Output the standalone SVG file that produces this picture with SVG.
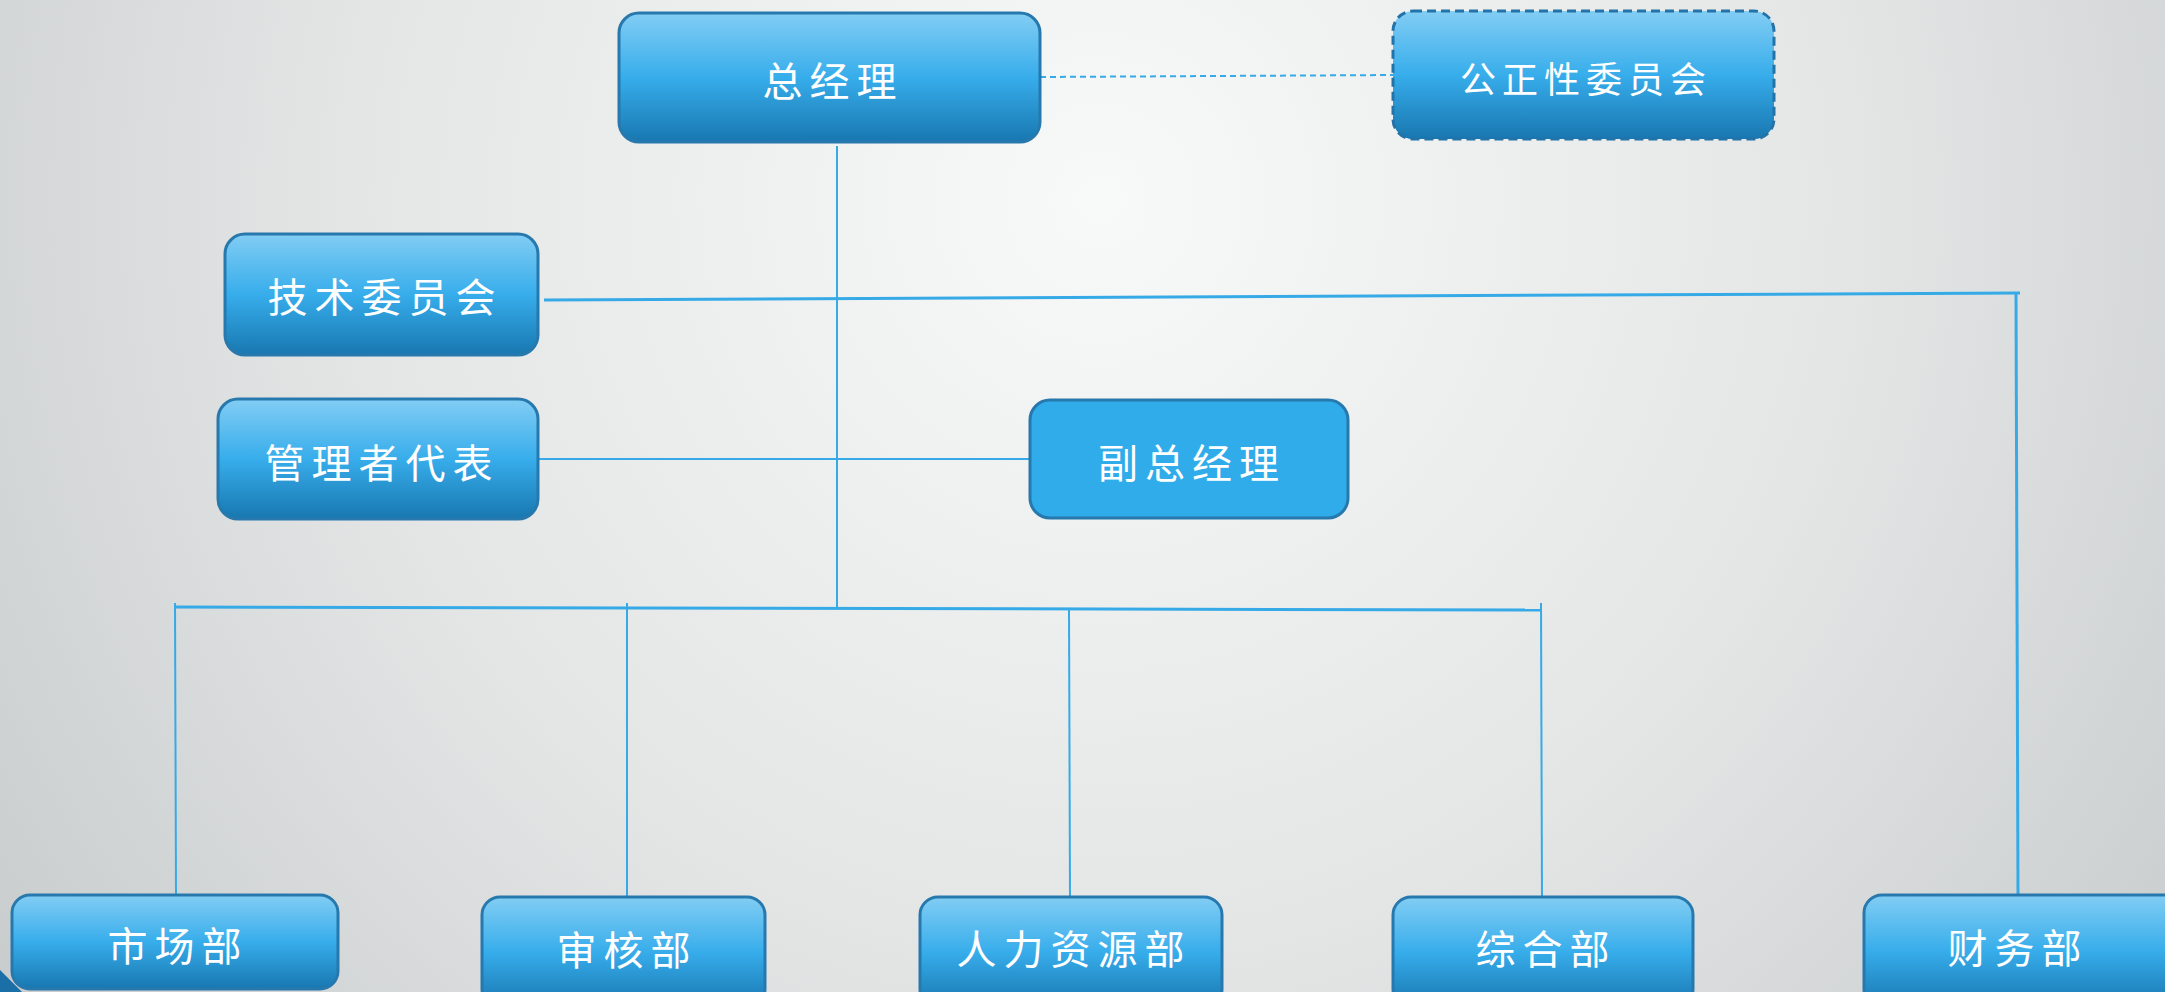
<svg xmlns="http://www.w3.org/2000/svg" width="2165" height="992" viewBox="0 0 2165 992">
<defs>
<radialGradient id="bg" cx="1100" cy="200" r="1500" gradientUnits="userSpaceOnUse">
<stop offset="0" stop-color="#f8f9f9"/>
<stop offset="0.5" stop-color="#e4e6e6"/>
<stop offset="1" stop-color="#c2c6c7"/>
</radialGradient>
<linearGradient id="nodeFill" x1="0" y1="0" x2="0" y2="1">
<stop offset="0" stop-color="#82cdf4"/>
<stop offset="0.5" stop-color="#37adeb"/>
<stop offset="1" stop-color="#1877b0"/>
</linearGradient>
<style>
.node{fill:url(#nodeFill);stroke:#2779ad;stroke-width:3}
.solid{fill:#31aceb;stroke:#2779ad;stroke-width:3}
.dashed{fill:url(#nodeFill);stroke:#2372a8;stroke-width:3;stroke-dasharray:9 5}
.lbl{fill:#ffffff;font-family:"Noto Sans CJK SC","Noto Sans CJK JP",sans-serif;font-size:40px;letter-spacing:7px;text-anchor:middle;dominant-baseline:central}
.conn{stroke:#36aae7;stroke-width:2;fill:none}
.thick{stroke:#36aae7;stroke-width:3;fill:none}
</style>
</defs>
<rect width="2165" height="992" fill="url(#bg)"/>
<polygon points="0,970 22,992 0,992" fill="#1a6fa6"/>
<g id="connectors">
<line class="conn" x1="1040" y1="77" x2="1393" y2="75" stroke-dasharray="6 4" stroke-width="2.5"/>
<line class="conn" x1="837" y1="146" x2="837" y2="608"/>
<line class="thick" x1="544" y1="300" x2="2020" y2="293"/>
<line class="thick" x1="2016" y1="293" x2="2018" y2="895"/>
<line class="conn" x1="538" y1="459" x2="1030" y2="459"/>
<line class="thick" x1="175" y1="607" x2="1541" y2="610"/>
<line class="conn" x1="175" y1="603" x2="176" y2="895"/>
<line class="conn" x1="627" y1="603" x2="627" y2="898"/>
<line class="conn" x1="1069" y1="610" x2="1070" y2="898"/>
<line class="conn" x1="1541" y1="603" x2="1542" y2="898"/>
</g>
<g id="n-gm"><rect class="node" x="619" y="13" width="421" height="129" rx="20"/><text class="lbl" x="833" y="79">总经理</text></g>
<g id="n-fair"><rect class="dashed" x="1393" y="11" width="381" height="128" rx="20"/><text class="lbl" x="1586" y="77" style="font-size:36px;letter-spacing:6px">公正性委员会</text></g>
<g id="n-tech"><rect class="node" x="225" y="234" width="313" height="121" rx="20"/><text class="lbl" x="385" y="295">技术委员会</text></g>
<g id="n-rep"><rect class="node" x="218" y="399" width="320" height="120" rx="20"/><text class="lbl" x="382" y="461">管理者代表</text></g>
<g id="n-vgm"><rect class="solid" x="1030" y="400" width="318" height="118" rx="20"/><text class="lbl" x="1192" y="461">副总经理</text></g>
<g id="n-market"><rect class="node" x="12" y="895" width="326" height="94" rx="18"/><text class="lbl" x="178" y="944">市场部</text></g>
<g id="n-audit"><rect class="node" x="482" y="897" width="283" height="110" rx="18"/><text class="lbl" x="627" y="948">审核部</text></g>
<g id="n-hr"><rect class="node" x="920" y="897" width="302" height="110" rx="18"/><text class="lbl" x="1074" y="947">人力资源部</text></g>
<g id="n-general"><rect class="node" x="1393" y="897" width="300" height="110" rx="18"/><text class="lbl" x="1546" y="947">综合部</text></g>
<g id="n-finance"><rect class="node" x="1864" y="895" width="320" height="112" rx="18"/><text class="lbl" x="2018" y="946">财务部</text></g>
</svg>
